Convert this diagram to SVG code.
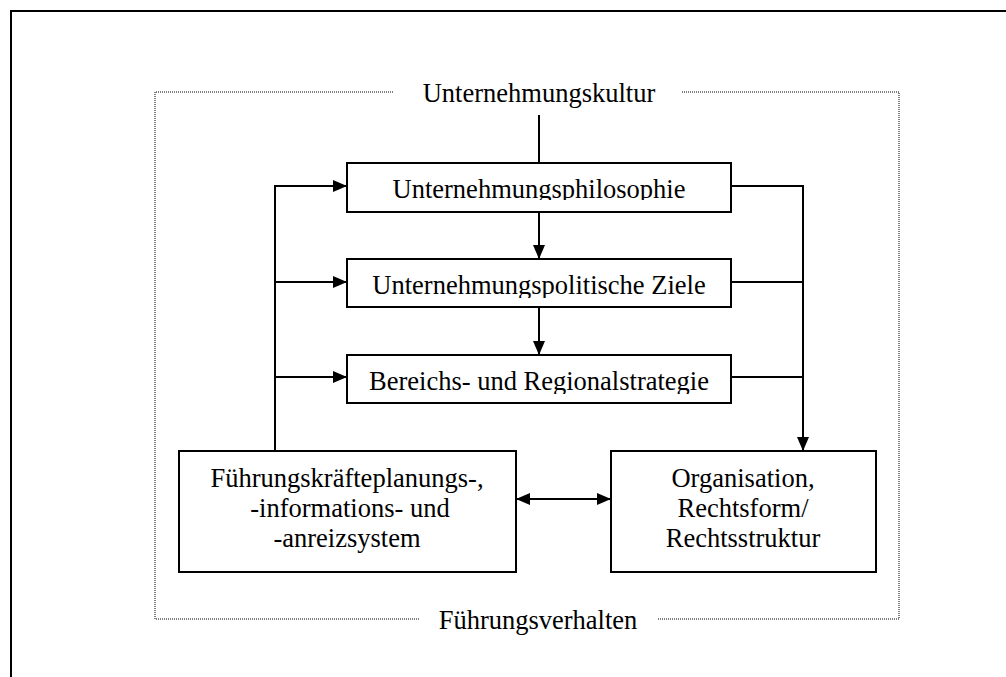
<svg xmlns="http://www.w3.org/2000/svg" width="1006" height="677" viewBox="0 0 1006 677">
<style>
  text { font-family: "Liberation Serif", "Times New Roman", serif; font-size: 26.5px; fill: #000; text-anchor: middle; }
  .box { fill: #fff; stroke: #000; stroke-width: 2; }
  .ln { fill: none; stroke: #000; stroke-width: 2; }
  .dot { fill: none; stroke: #000; stroke-width: 1; stroke-dasharray: 1 1; }
</style>
<defs>
  <marker id="ah" markerWidth="14" markerHeight="12" refX="14" refY="6" orient="auto-start-reverse" markerUnits="userSpaceOnUse">
    <path d="M0,0 L14,6 L0,12 Z" fill="#000"/>
  </marker>
  <clipPath id="c1"><rect x="347" y="163" width="384" height="37"/></clipPath>
  <clipPath id="c2"><rect x="347" y="259" width="384" height="39"/></clipPath>
  <clipPath id="c3"><rect x="347" y="355" width="384" height="39"/></clipPath>
</defs>
<rect width="1006" height="677" fill="#fff"/>
<path d="M11,677 V11 H1006" class="ln"/>

<g id="frame">
  <path d="M393,92 H155 V619 H419" class="dot"/>
  <path d="M682,92 H899 V619 H658" class="dot"/>
  <text x="539" y="102">Unternehmungskultur</text>
  <text x="538" y="629">Führungsverhalten</text>
</g>

<g id="connectors">
  <path d="M539,115 V163" class="ln"/>
  <path d="M539,212 V259" class="ln" marker-end="url(#ah)"/>
  <path d="M539,307 V355" class="ln" marker-end="url(#ah)"/>
  <path d="M275,451 V186 H347" class="ln" marker-end="url(#ah)"/>
  <path d="M275,282 H347" class="ln" marker-end="url(#ah)"/>
  <path d="M275,377 H347" class="ln" marker-end="url(#ah)"/>
  <path d="M731,186 H803 V451" class="ln" marker-end="url(#ah)"/>
  <path d="M731,282 H803" class="ln"/>
  <path d="M731,377 H803" class="ln"/>
  <path d="M516,499 H611" class="ln" marker-start="url(#ah)" marker-end="url(#ah)"/>
</g>

<g id="philosophie">
  <rect x="347" y="163" width="384" height="49" class="box"/>
  <text x="539" y="198" clip-path="url(#c1)">Unternehmungsphilosophie</text>
</g>
<g id="ziele">
  <rect x="347" y="259" width="384" height="48" class="box"/>
  <text x="539" y="294" clip-path="url(#c2)">Unternehmungspolitische Ziele</text>
</g>
<g id="strategie">
  <rect x="347" y="355" width="384" height="48" class="box"/>
  <text x="539" y="390" clip-path="url(#c3)">Bereichs- und Regionalstrategie</text>
</g>
<g id="fuehrungssystem">
  <rect x="179" y="451" width="337" height="121" class="box"/>
  <text x="347" y="487">Führungskräfteplanungs-,</text>
  <text x="350" y="517">-informations- und</text>
  <text x="347" y="547">-anreizsystem</text>
</g>
<g id="organisation">
  <rect x="611" y="451" width="265" height="121" class="box"/>
  <text x="743" y="487">Organisation,</text>
  <text x="743" y="517">Rechtsform/</text>
  <text x="743" y="547">Rechtsstruktur</text>
</g>
</svg>
